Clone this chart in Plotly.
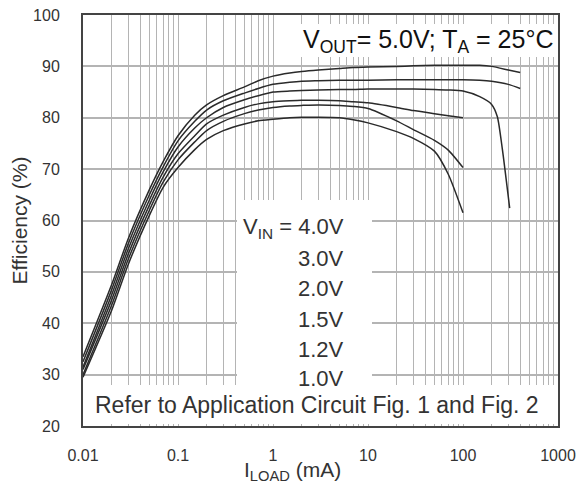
import plotly.graph_objects as go

# ---- data ----
I_BASE = [0.01, 0.02, 0.03, 0.05, 0.07, 0.1, 0.15, 0.2, 0.3, 0.5, 0.7, 1, 1.5, 2, 3,
          5, 7, 10, 20, 30, 50, 70, 100]

I_40 = I_BASE + [150, 200, 300, 400]
E_40 = [33.5, 47.5, 56.5, 66, 71.5, 76.5, 80.5, 82.5, 84.3, 86, 87.2, 88.1, 88.7, 89.0,
        89.3, 89.6, 89.8, 89.9, 90.0, 90.1, 90.2, 90.2, 90.2, 90.2, 90.0, 89.3, 88.8]

I_30 = I_BASE + [150, 200, 300, 400]
E_30 = [32.5, 46.5, 55.5, 65, 70.5, 75.5, 79.3, 81.5, 83.3, 84.8, 85.7, 86.5, 86.9, 87.1,
        87.2, 87.3, 87.3, 87.3, 87.4, 87.4, 87.4, 87.4, 87.4, 87.3, 87.1, 86.5, 85.7]

I_20 = I_BASE + [150, 200, 230, 260, 310]
E_20 = [31.5, 45.5, 54.5, 64, 69.5, 74.3, 78, 80, 82, 83.5, 84.3, 85, 85.2, 85.3, 85.4,
        85.5, 85.5, 85.6, 85.6, 85.6, 85.5, 85.4, 85.2, 84.1, 82.6, 80.2, 73.8, 62.4]

I_15 = I_BASE
E_15 = [31, 44.5, 53.5, 63, 68.5, 73, 76.5, 78.8, 80.5, 82, 82.7, 83.1, 83.3, 83.4, 83.4,
        83.3, 83.1, 82.9, 82.0, 81.4, 80.8, 80.4, 80.0]

I_12 = I_BASE
E_12 = [30, 43.5, 52.5, 62, 67.5, 71.8, 75.3, 77.5, 79.3, 80.8, 81.5, 82, 82.3, 82.4, 82.5,
        82.4, 82.2, 81.8, 79.4, 77.7, 75.6, 73.7, 70.3]

I_10 = I_BASE
E_10 = [29.5, 42.5, 51.5, 61, 66.5, 70.3, 73.8, 75.8, 77.5, 78.8, 79.4, 79.7, 80, 80.1,
        80.1, 80, 79.6, 79.0, 77.3, 76, 73.5, 69, 61.5]

SERIES = [("4.0V", I_40, E_40), ("3.0V", I_30, E_30), ("2.0V", I_20, E_20),
          ("1.5V", I_15, E_15), ("1.2V", I_12, E_12), ("1.0V", I_10, E_10)]

X_DECADES = [0.01, 0.1, 1, 10, 100, 1000]
X_LABELS = ["0.01", "0.1", "1", "10", "100", "1000"]
Y_TICKS = [20, 30, 40, 50, 60, 70, 80, 90, 100]

# minor grid positions at every 2..9 multiple of each decade
x_minor = [round(m * d, 6) for d in X_DECADES[:-1] for m in range(2, 10)]

FONT = "Liberation Sans, Arial, sans-serif"
GRID = "#b4b4b4"
TXT = "#333333"

fig = go.Figure()
for name, xs, ys in SERIES:
    fig.add_trace(go.Scatter(x=xs, y=ys, mode="lines", name=name,
                             line=dict(color="#2a2a2a", width=1.5, shape="spline", smoothing=0.6),
                             showlegend=False))

# page has an 8px body margin: figure starts at screen (8, 8)
OFF = 8
W, H = 584 - OFF, 491 - OFF
L, R, T, B = 83 - OFF, 26, 15 - OFF, 65
PW, PH = W - L - R, H - T - B


def px(x):  # screen x -> paper
    return (x - OFF - L) / PW


def py(y):  # screen y -> paper
    return (H - B - (y - OFF)) / PH


WHITE = dict(fillcolor="white", line=dict(width=0), layer="above")
shapes = [
    # white panels that hide the grid behind the texts
    dict(type="rect", xref="paper", yref="paper", x0=px(297), x1=px(556), y0=py(57), y1=py(24), **WHITE),
    dict(type="rect", xref="paper", yref="paper", x0=px(237), x1=px(372), y0=py(385), y1=py(200), **WHITE),
    dict(type="rect", xref="paper", yref="paper", x0=px(85), x1=px(556), y0=py(424), y1=py(385), **WHITE),
]

annotations = [
    dict(text="V<sub>OUT</sub>= 5.0V; T<sub>A</sub> = 25°C", xref="paper", yref="paper",
         x=px(555), y=py(41), xanchor="right", yanchor="middle", showarrow=False,
         font=dict(family=FONT, size=25, color="#111")),
    dict(text="Refer to Application Circuit Fig. 1 and Fig. 2", xref="paper", yref="paper",
         x=px(317), y=py(405), xanchor="center", yanchor="middle", showarrow=False,
         font=dict(family=FONT, size=23, color=TXT)),
    dict(text="I<sub>LOAD</sub> (mA)", xref="paper", yref="paper",
         x=px(292), y=py(471), xanchor="center", yanchor="middle", showarrow=False,
         font=dict(family=FONT, size=21, color=TXT)),
]
label_y = [228, 258, 288, 319, 349, 378]
for (name, _, _), ly in zip(SERIES, label_y):
    txt = ("V<sub>IN</sub> = " + name) if name == "4.0V" else name
    annotations.append(dict(text=txt, xref="paper", yref="paper", x=px(346), y=py(ly),
                            xanchor="right", yanchor="middle", showarrow=False,
                            font=dict(family=FONT, size=22, color=TXT)))

fig.update_layout(
    width=W, height=H, margin=dict(l=L, r=R, t=T, b=B, autoexpand=False),
    paper_bgcolor="white", plot_bgcolor="white",
    font=dict(family=FONT, color=TXT),
    shapes=shapes, annotations=annotations,
    xaxis=dict(type="log", range=[-2, 3], tickmode="array", tickvals=X_DECADES,
               ticktext=X_LABELS, showgrid=True, gridcolor=GRID, gridwidth=1,
               ticks="inside", ticklen=3, tickcolor=GRID,
               minor=dict(tickmode="array", tickvals=x_minor, showgrid=True, gridcolor=GRID,
                          gridwidth=1, ticks="inside", ticklen=3, tickcolor=GRID),
               showline=True, linecolor="#444", linewidth=2, mirror=True,
               tickfont=dict(size=16, color=TXT), ticklabelstandoff=14, automargin=False,
               ticklabeloverflow="allow", zeroline=False),
    yaxis=dict(range=[20, 100], tickmode="array", tickvals=Y_TICKS,
               ticktext=[str(v) for v in Y_TICKS], showgrid=True, gridcolor=GRID, gridwidth=1.5,
               ticks="", showline=True, linecolor="#444", linewidth=2, mirror=True,
               tickfont=dict(size=16, color=TXT), ticklabelstandoff=18, automargin=False,
               ticklabeloverflow="allow",
               title=dict(text="Efficiency (%)", font=dict(size=21, color=TXT), standoff=2),
               zeroline=False),
)

fig.write_html("out.html")
